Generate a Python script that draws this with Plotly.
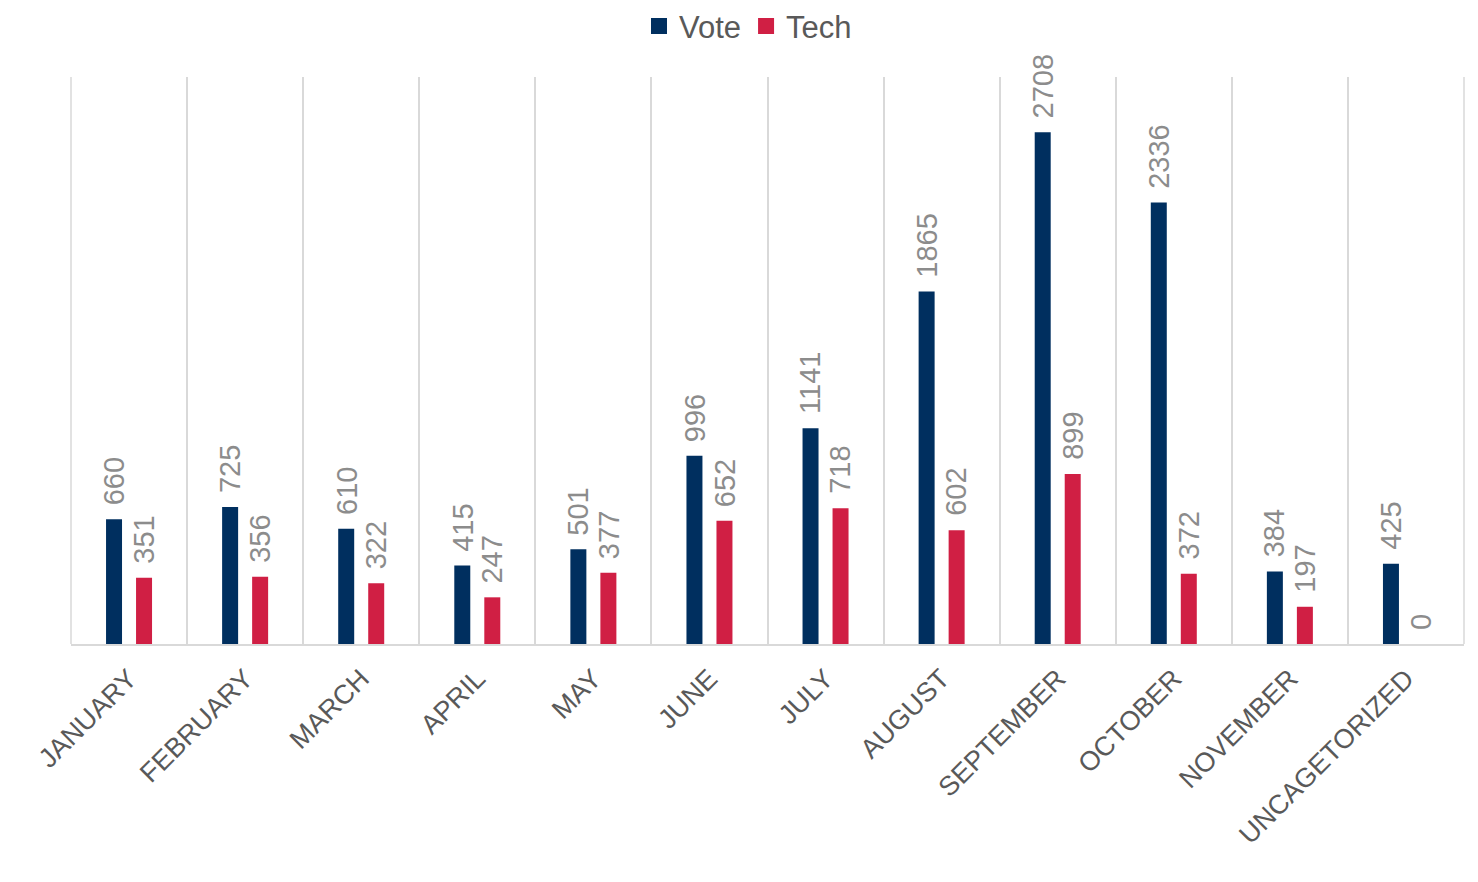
import plotly.graph_objects as go

categories = ["JANUARY", "FEBRUARY", "MARCH", "APRIL", "MAY", "JUNE", "JULY",
              "AUGUST", "SEPTEMBER", "OCTOBER", "NOVEMBER", "UNCAGETORIZED"]
vote = [660, 725, 610, 415, 501, 996, 1141, 1865, 2708, 2336, 384, 425]
tech = [351, 356, 322, 247, 377, 652, 718, 602, 899, 372, 197, 0]

series = [("Vote", vote, "#002F5F", -15), ("Tech", tech, "#D01F44", 15)]

FONT = "Liberation Sans, Arial, sans-serif"
GRID = "#D9D9D9"

fig = go.Figure()
annotations = []
for name, vals, color, shift in series:
    fig.add_trace(go.Bar(name=name, x=categories, y=vals, marker_color=color,
                         marker_line_width=0, showlegend=False))
    for c, v in zip(categories, vals):
        annotations.append(dict(x=c, y=v, text=str(v), xref="x", yref="y",
                                showarrow=False, textangle=-90,
                                xanchor="center", yanchor="bottom",
                                xshift=shift, yshift=12,
                                font=dict(family=FONT, size=29, color="#8C8C8C")))

# legend-only entries with larger square swatches
for name, vals, color, shift in series:
    fig.add_trace(go.Scatter(name=name, x=[None], y=[None], mode="markers",
                             marker=dict(symbol="square", size=16, color=color),
                             showlegend=True, hoverinfo="skip"))

# outer frame gridlines at the plot edges (left / right boundaries)
shapes = [dict(type="line", xref="paper", yref="paper", x0=e, x1=e, y0=0, y1=1,
               line=dict(color=GRID, width=1.5), layer="below") for e in (0, 1)]

# page has an 8px body margin, so the figure is sized/margined to compensate
fig.update_layout(
    width=1470, height=874,
    margin=dict(l=63, r=14, t=69, b=238),
    paper_bgcolor="white", plot_bgcolor="white",
    barmode="group", bargap=0.483, bargroupgap=0.467,
    font=dict(family=FONT, color="#595959"),
    showlegend=True,
    legend=dict(orientation="h", x=0.486, xanchor="center", y=0.979,
                yref="container", yanchor="middle",
                font=dict(family=FONT, size=31, color="#595959"),
                itemwidth=30, traceorder="normal"),
    annotations=annotations,
    shapes=shapes,
)
fig.update_xaxes(type="category", tickson="boundaries", showgrid=True,
                 gridcolor=GRID, gridwidth=1.5, showline=True,
                 linecolor=GRID, linewidth=2, ticks="", tickangle=-45,
                 ticklabelstandoff=6,
                 tickfont=dict(family=FONT, size=27, color="#595959"),
                 range=[-0.5, 11.5], automargin=False)
fig.update_yaxes(range=[0, 3000], visible=False, showgrid=False, zeroline=False,
                 automargin=False)

fig.write_html("out.html")
